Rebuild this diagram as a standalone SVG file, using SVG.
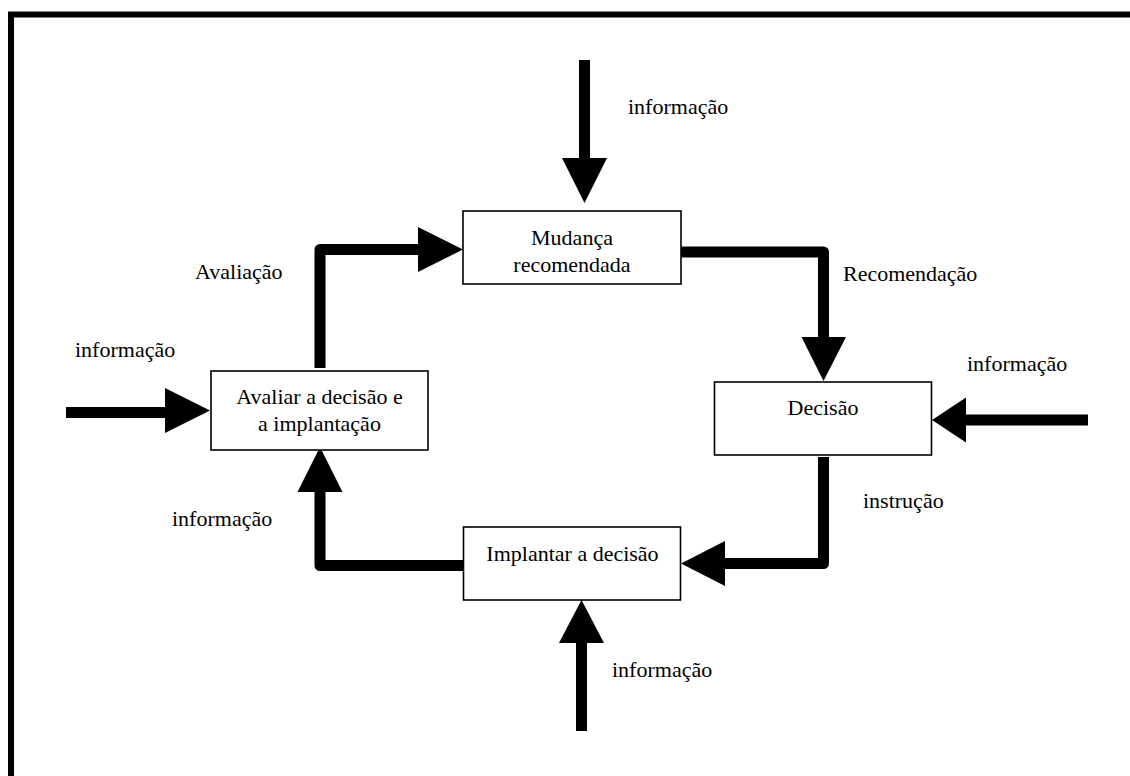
<svg xmlns="http://www.w3.org/2000/svg" width="1130" height="776" viewBox="0 0 1130 776">
<style>
.box{fill:#fff;stroke:#000;stroke-width:1.6}
.t{font-size:22px;fill:#000}
.c{text-anchor:middle}
.ln{fill:none;stroke:#000;stroke-width:11;stroke-linejoin:round}
.hd{fill:#000}
</style>
<rect width="1130" height="776" fill="#fff"/>
<rect x="11" y="14.5" width="1140" height="800" fill="none" stroke="#000" stroke-width="6"/>
<g id="connectors">
<path class="ln" d="M584.5,60 V160"/>
<polygon class="hd" points="562,158 607,158 584.5,203"/>
<path class="ln" d="M320,368 V249.5 H420"/>
<polygon class="hd" points="418,227 418,272 463,249.5"/>
<path class="ln" d="M681,252 H823.5 V339"/>
<polygon class="hd" points="801.5,337 846,337 823.5,381"/>
<path class="ln" d="M1088,420 H964"/>
<polygon class="hd" points="966,397.5 966,442.5 932,420"/>
<path class="ln" d="M823.5,457 V563.5 H723"/>
<polygon class="hd" points="725,541 725,586 681,563.5"/>
<path class="ln" d="M581.5,731 V641"/>
<polygon class="hd" points="559,643 604,643 581.5,600"/>
<path class="ln" d="M463,565.5 H320 V490"/>
<polygon class="hd" points="297.5,492 342.5,492 320,447"/>
<path class="ln" d="M66,412.5 H167"/>
<polygon class="hd" points="165,388 165,433 210,410.5"/>
</g>
<g font-family="'Liberation Serif', 'Times New Roman', Tinos, 'DejaVu Serif', serif">
<g id="mudanca">
<rect class="box" x="463" y="211" width="218" height="73"/>
<text class="t c" x="572" y="245">Mudança</text>
<text class="t c" x="572" y="271.5">recomendada</text>
</g>
<g id="decisao">
<rect class="box" x="714.5" y="382" width="217" height="73"/>
<text class="t c" x="823" y="415">Decisão</text>
</g>
<g id="implantar">
<rect class="box" x="463.5" y="527" width="217" height="73"/>
<text class="t c" x="572.5" y="561">Implantar a decisão</text>
</g>
<g id="avaliar">
<rect class="box" x="211" y="371" width="217" height="79"/>
<text class="t c" x="319.5" y="404">Avaliar a decisão e</text>
<text class="t c" x="319.5" y="430.5">a implantação</text>
</g>
<g id="labels">
<text class="t" x="628" y="114">informação</text>
<text class="t" x="195" y="278.5">Avaliação</text>
<text class="t" x="843" y="281">Recomendação</text>
<text class="t" x="75" y="357">informação</text>
<text class="t" x="967" y="371">informação</text>
<text class="t" x="863" y="508">instrução</text>
<text class="t" x="172" y="526">informação</text>
<text class="t" x="612" y="677">informação</text>
</g>
</g>
</svg>
